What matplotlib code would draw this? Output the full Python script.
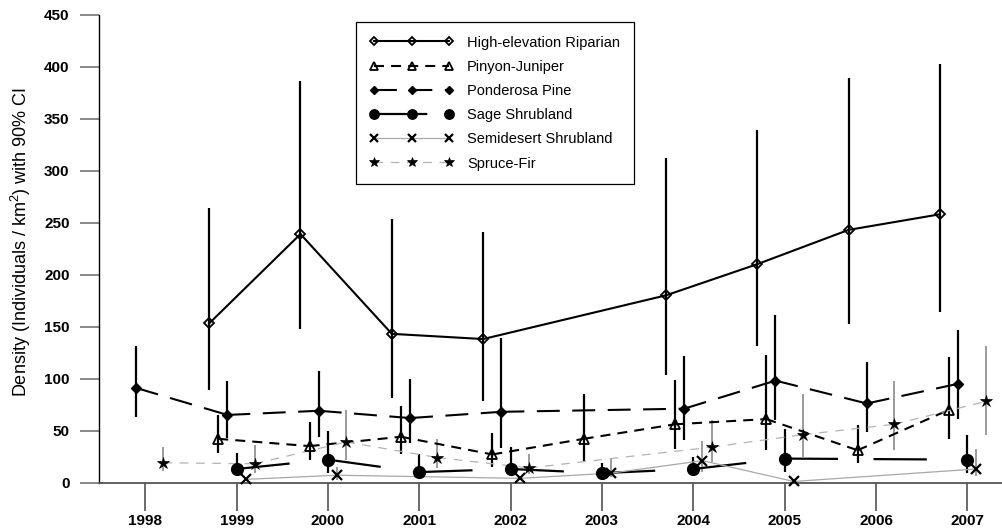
import numpy as np
import matplotlib.pyplot as plt
from matplotlib.lines import Line2D

plt.rcParams['font.family'] = ['Liberation Sans', 'DejaVu Sans']
plt.rcParams['mathtext.fontset'] = 'custom'
plt.rcParams['mathtext.rm'] = 'Liberation Sans'
plt.rcParams['mathtext.it'] = 'Liberation Sans:italic'

nan = np.nan
years = np.arange(1998, 2008)

# density estimates and 90% CI bounds per habitat
riparian = np.array([nan, 153, 239, 143, 138, nan, 180, 210, 243, 258])
riparian_lo = np.array([nan, 89, 148, 81, 78, nan, 103, 131, 152, 164])
riparian_hi = np.array([nan, 264, 386, 253, 241, nan, 312, 339, 389, 403])

pinyon = np.array([nan, 42, 35, 44, 27, 42, 56, 61, 31, 70])
pinyon_lo = np.array([nan, 28, 22, 27, 15, 21, 32, 31, 19, 42])
pinyon_hi = np.array([nan, 65, 58, 74, 48, 85, 99, 123, 55, 121])

ponderosa = np.array([91, 65, 69, 62, 68, nan, 71, 98, 76, 95])
ponderosa_lo = np.array([63, 43, 44, 38, 33, nan, 41, 60, 49, 61])
ponderosa_hi = np.array([131, 98, 107, 100, 139, nan, 122, 161, 116, 147])

sage = np.array([nan, 13, 22, 10, 13, 9, 13, 23, nan, 22])
sage_lo = np.array([nan, 6, 9, 6, 6, 5, 6, 10, nan, 9])
sage_hi = np.array([nan, 28, 50, 27, 34, 19, 25, 51, nan, 46])

semidesert = np.array([nan, 3, 7, nan, 4, 9, 21, 1, nan, 13])
semidesert_lo = np.array([nan, 3, 2, nan, 4, 5, 10, 1, nan, 6])
semidesert_hi = np.array([nan, 3, 15, nan, 4, 23, 40, 1, nan, 32])

spruce = np.array([19, 18, 39, 24, 14, nan, 34, 46, 56, 78])
spruce_lo = np.array([11, 9, 22, 14, 8, nan, 20, 25, 31, 46])
spruce_hi = np.array([34, 36, 70, 42, 27, nan, 60, 85, 98, 131])

labels = ['High-elevation Riparian', 'Pinyon-Juniper', 'Ponderosa Pine',
          'Sage Shrubland', 'Semidesert Shrubland', 'Spruce-Fir']

series = [
    (riparian, riparian_lo, riparian_hi,
     dict(dx=-0.3, marker='D', ms=5, mfc='none', mew=1.3, lc='black', lw=1.5,
          ls='-', ec='black', elw=1.6)),
    (pinyon, pinyon_lo, pinyon_hi,
     dict(dx=-0.2, marker='^', ms=7, mfc='none', mew=1.3, lc='black', lw=1.5,
          ls=(0, (4.8, 3.4)), ec='black', elw=1.6)),
    (ponderosa, ponderosa_lo, ponderosa_hi,
     dict(dx=-0.1, marker='D', ms=5.5, mfc='black', mew=1, lc='black', lw=1.5,
          ls=(0, (11, 6)), ec='black', elw=1.6)),
    (sage, sage_lo, sage_hi,
     dict(dx=0.0, marker='o', ms=8.5, mfc='black', mew=1, lc='black', lw=1.6,
          ls=(0, (24, 16)), ec='black', elw=1.6)),
    (semidesert, semidesert_lo, semidesert_hi,
     dict(dx=0.1, marker='x', ms=7, mfc='black', mew=1.6, lc='#a8a8a8', lw=0.9,
          ls='-', ec='#808080', elw=1.1)),
    (spruce, spruce_lo, spruce_hi,
     dict(dx=0.2, marker='*', ms=9, mfc='black', mew=0.5, lc='#b4b4b4', lw=0.9,
          ls=(0, (7, 6)), ec='#808080', elw=1.1)),
]

fig = plt.figure(figsize=(10.03, 5.29), dpi=100)
ax = fig.add_axes([99.5 / 1003, 46.5 / 529, 913.5 / 1003, 467.8 / 529])

handles = []
for (y, lo, hi, st), lab in zip(series, labels):
    ok = ~np.isnan(y)
    x = years[ok] + st['dx']
    yv, lv, hv = y[ok], lo[ok], hi[ok]
    ax.vlines(x, lv, hv, colors=st['ec'], lw=st['elw'], zorder=2)
    # each segment starts its own dash pattern at the data point
    for i in range(len(x) - 1):
        ax.plot(x[i:i + 2], yv[i:i + 2], color=st['lc'], lw=st['lw'],
                ls=st['ls'], zorder=3, dash_capstyle='butt')
    ax.plot(x, yv, ls='none', marker=st['marker'], ms=st['ms'],
            mfc=st['mfc'], mec='black', mew=st['mew'], zorder=4, clip_on=False)
    handles.append(Line2D([], [], color=st['lc'], lw=st['lw'], ls=st['ls'],
                          marker=st['marker'], ms=st['ms'], mfc=st['mfc'],
                          mec='black', mew=st['mew'], dash_capstyle='butt'))

ax.set_xlim(1997.5, 2007.5)
ax.set_ylim(0, 450)
ax.set_xticks(years)
ax.set_yticks(np.arange(0, 451, 50))
for t in ax.get_xticklabels() + ax.get_yticklabels():
    t.set_fontweight('bold')
    t.set_fontsize(11)
ax.tick_params(axis='x', length=20, width=1.1, color='#444444', pad=3)
ax.tick_params(axis='y', length=14, width=1.4, color='#888888', pad=7.5)
ax.spines['top'].set_visible(False)
ax.spines['right'].set_visible(False)
ax.spines['left'].set_color('black')
ax.spines['left'].set_linewidth(1.0)
ax.spines['bottom'].set_color('#555555')
ax.spines['bottom'].set_linewidth(1.3)

fig.text(21 / 1003, 1 - 242 / 529, 'Density (Individuals / km$^2$) with 90% CI',
         rotation=90, ha='center', va='center', fontsize=13)

leg = fig.legend(handles, labels, loc='upper left',
                 bbox_to_anchor=(356 / 1003, 1 - 21.7 / 529),
                 borderaxespad=0, numpoints=3, fontsize=10.5, markerscale=0.8,
                 handlelength=5.76, handletextpad=0.9, borderpad=0.95,
                 labelspacing=0.7, fancybox=False, framealpha=1,
                 edgecolor='black')
leg.get_frame().set_linewidth(0.9)

plt.savefig('out.png', dpi=100)
